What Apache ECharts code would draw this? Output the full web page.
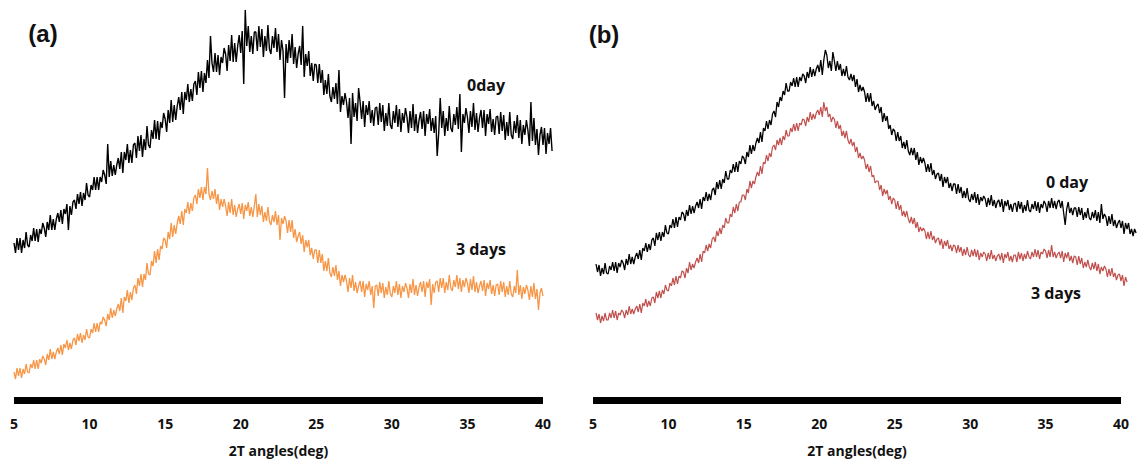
<!DOCTYPE html>
<html><head><meta charset="utf-8">
<script src="https://cdn.jsdelivr.net/npm/echarts@6/dist/echarts.min.js"></script>
<style>html,body{margin:0;padding:0;background:#fff}#c{width:1137px;height:463px}</style>
</head><body><div id="c"></div>
<script>
// X-ray diffraction patterns, intensity in arbitrary units, sampled every 0.1 deg
const xTicks = [5, 10, 15, 20, 25, 30, 35, 40];
const dataMaxAngle = 41;   // the recorded patterns run a little past the last tick
const angleStep = 0.1;
const startA = 5.0;   // panel (a) first angle
const startB = 5.2;   // panel (b) first angle

// (a) 0 day
const day0A = [
157,147,162,150,162,147,160,152,168,155, 153,165,159,172,159,171,158,171,166,177,
172,163,178,170,185,170,181,170,181,187, 178,190,176,191,186,196,170,194,185,198,
200,191,206,196,208,194,207,200,217,205, 203,215,210,223,210,223,210,223,218,230,
225,216,256,223,239,224,235,225,235,242, 231,248,227,248,240,256,237,250,237,255,
257,242,264,249,265,243,261,250,274,255, 252,270,261,280,261,279,260,278,272,287,
281,268,290,277,300,278,295,280,294,303, 290,308,286,308,300,316,298,311,299,316,
319,305,328,312,329,308,327,317,340,322, 364,337,328,347,328,345,325,343,337,352,
346,329,355,339,365,338,357,338,354,365, 347,369,316,390,354,374,348,364,346,368,
368,349,374,353,371,343,364,349,375,351, 346,364,352,372,348,366,340,360,349,302,
356,337,360,342,366,336,353,332,346,354, 335,374,323,346,334,349,324,337,319,336,
335,317,336,317,330,305,320,306,326,304, 298,313,301,317,296,330,288,304,295,307,
298,282,302,256,307,283,297,279,312,298, 281,299,273,295,285,299,277,290,274,292,
293,275,297,278,295,269,287,274,297,275, 271,289,277,295,273,291,268,287,277,292,
283,267,289,272,296,269,286,267,280,288, 271,289,264,286,276,291,269,282,267,284,
244,267,302,272,289,264,282,269,294,272, 268,286,275,293,271,306,248,286,277,292,
283,267,289,273,297,270,287,268,282,290, 272,290,264,286,276,291,268,281,265,283,
284,266,288,269,285,260,278,264,288,265, 261,279,267,285,262,280,256,275,265,280,
270,254,298,259,282,255,271,245,265,273, 255,272,246,267,256,272,249
];
// (a) 3 days
const day3A = [
28,21,32,24,32,22,31,26,36,28, 27,36,32,40,31,40,31,41,37,44,
41,35,46,40,51,41,48,41,48,52, 46,55,45,56,52,60,50,57,51,60,
62,55,66,59,67,57,65,60,71,63, 62,71,67,77,68,77,68,78,76,83,
80,74,86,80,92,82,90,84,91,96, 89,102,87,103,99,110,97,108,100,112,
115,106,122,114,126,113,126,120,137,126, 125,139,134,149,137,151,140,154,151,162,
160,152,168,161,177,163,175,166,177,184, 176,189,175,191,187,198,186,197,189,202,
205,196,211,202,213,200,213,206,232,206, 200,209,201,211,196,206,190,201,193,201,
194,184,198,187,201,185,195,183,191,196, 186,197,181,195,189,198,184,193,183,194,
206,183,196,185,194,178,188,179,193,179, 175,185,178,189,175,185,160,182,176,184,
179,167,180,168,180,162,171,158,164,168, 156,165,148,160,153,160,145,152,141,150,
150,137,150,137,146,129,139,129,142,127, 123,133,124,135,120,129,114,125,118,125,
119,108,122,112,125,109,118,107,114,119, 108,119,103,116,110,119,105,114,92,114,
115,104,118,107,117,102,113,105,119,106, 103,114,107,119,105,116,102,114,108,117,
112,102,116,107,121,105,115,104,113,118, 108,119,103,118,112,121,95,116,107,118,
119,108,122,112,122,107,118,110,125,112, 109,120,113,125,111,122,108,120,113,122,
117,107,121,110,124,108,118,107,114,119, 109,120,104,117,111,120,106,115,104,115,
116,105,119,108,118,103,114,105,119,106, 103,114,107,130,105,115,101,113,106,115,
110,100,114,103,117,101,111,90,107,112, 104
];
// (b) 0 day
const day0B = [
136,128,135,124,132,126,137,127,
126,134,130,138,129,138,127,137,133,140, 137,130,141,135,146,136,143,136,143,147,
141,150,140,152,149,157,148,156,150,160, 162,154,167,160,168,159,168,163,175,167,
166,175,172,181,172,183,173,183,180,188, 186,179,190,184,195,186,194,187,194,198,
192,201,191,203,199,208,199,206,200,210, 212,205,218,211,220,211,221,217,229,221,
221,230,227,236,228,238,228,239,236,244, 242,236,248,243,255,246,255,249,257,262,
257,268,258,272,269,279,271,280,275,286, 289,283,298,293,303,299,309,305,317,309,
309,318,314,322,313,323,313,323,319,326, 324,317,328,322,333,323,331,324,331,335,
328,340,325,340,350,345,332,339,329,348, 339,329,339,330,336,324,331,324,334,323,
320,326,319,325,313,321,308,315,309,313, 308,298,307,298,307,294,299,290,294,296,
287,293,278,287,279,284,271,275,265,271, 269,259,268,259,264,252,258,251,260,249,
245,252,245,252,240,248,235,243,237,242, 237,228,236,228,237,225,230,221,226,227,
219,226,213,223,217,223,212,217,209,216, 216,206,216,207,213,202,209,202,212,201,
198,206,200,208,197,206,195,203,199,204, 201,193,202,195,205,194,200,192,198,200,
193,201,188,199,194,200,190,196,188,196, 197,188,199,191,198,187,195,189,200,190,
188,196,191,199,189,198,187,196,192,199, 196,188,199,192,202,192,199,191,198,200,
192,199,187,175,191,198,187,192,185,192, 192,183,193,185,192,180,188,182,192,182,
180,188,182,190,179,188,177,196,181,186, 183,174,184,176,186,174,180,172,177,180,
172,179,166,177,171,177,166,171,164,171, 167
];
// (b) 3 days
const day3B = [
87,80,86,77,84,79,87,80,
80,87,82,90,82,89,80,87,85,90, 88,82,90,85,94,86,91,86,91,94,
88,96,87,97,94,101,93,99,94,102, 103,97,108,102,109,102,110,106,115,110,
109,117,114,122,115,124,116,124,122,129, 128,122,132,127,138,130,136,132,138,142,
137,146,138,149,147,155,149,156,152,161, 163,158,169,164,172,166,175,172,182,177,
177,186,183,193,187,196,189,198,198,205, 205,200,211,207,219,212,219,216,223,228,
224,234,226,238,236,245,239,247,243,253, 255,250,260,255,262,255,264,260,270,264,
264,272,268,276,269,277,269,277,275,281, 280,274,283,278,288,280,286,281,287,290,
285,293,283,298,289,293,283,286,278,283, 281,272,279,271,275,264,269,262,269,260,
256,261,254,258,248,253,242,247,241,244, 240,231,236,228,234,223,225,217,219,219,
210,215,204,211,206,210,200,204,196,202, 200,191,199,190,195,184,189,183,189,181,
177,183,176,182,172,178,168,173,169,172, 169,161,168,161,169,160,164,157,161,162,
155,161,151,159,154,160,151,155,149,155, 154,147,155,148,153,144,151,145,153,145,
143,150,144,151,143,150,140,147,143,148, 146,139,147,141,150,141,145,139,144,146,
140,147,137,146,142,148,139,144,138,145, 145,138,148,141,147,139,146,141,149,143,
141,148,143,151,143,150,141,148,146,151, 149,142,150,143,155,143,148,142,146,148,
142,149,138,147,142,148,139,144,137,144, 143,135,144,136,142,132,138,133,140,133,
130,137,131,138,129,136,126,133,129,134, 131,123,131,124,132,123,127,120,125,126,
119,125,114,123,118
];

function pairs(start, arr) {
  return arr.map((v, i) => [Math.round((start + i * angleStep) * 10) / 10, v]);
}

const FONT = "'Open Sans', 'Noto Sans', sans-serif";
const chart = echarts.init(document.getElementById('c'), null, { renderer: 'svg' });

const axisMin = xTicks[0], axisMax = xTicks[xTicks.length - 1];
const panels = [
  { left: 14, width: 529 },
  { left: 593, width: 528 }
];
const grids = [], xAxes = [], yAxes = [];
panels.forEach((p, k) => {
  // visible axis grid
  grids.push({ left: p.left, top: 0, width: p.width, height: 400 });
  // data grid with the same degrees-per-pixel, extended to dataMaxAngle
  grids.push({ left: p.left, top: 0, width: p.width * (dataMaxAngle - axisMin) / (axisMax - axisMin), height: 400 });
  xAxes.push({
    type: 'value', gridIndex: 2 * k, min: axisMin, max: axisMax, interval: 5,
    axisLine: { show: true, lineStyle: { color: '#000', width: 7, cap: 'butt' } },
    axisTick: { show: false }, splitLine: { show: false },
    axisLabel: { margin: 16, color: '#111', fontSize: 14, fontWeight: 'bold', fontFamily: FONT },
    name: '2T angles(deg)', nameLocation: 'middle', nameGap: 43,
    nameTextStyle: { color: '#111', fontSize: 14, fontWeight: 'bold', fontFamily: FONT }
  });
  xAxes.push({ type: 'value', gridIndex: 2 * k + 1, min: axisMin, max: dataMaxAngle, show: false, splitLine: { show: false } });
  yAxes.push({ type: 'value', gridIndex: 2 * k, min: 0, max: 400, show: false, splitLine: { show: false } });
  yAxes.push({ type: 'value', gridIndex: 2 * k + 1, min: 0, max: 400, show: false, splitLine: { show: false } });
});

function lineSeries(idx, data, color, width) {
  return {
    type: 'line', xAxisIndex: idx, yAxisIndex: idx, data, showSymbol: false, symbol: 'none',
    clip: false, lineStyle: { color, width }, itemStyle: { color }, silent: true
  };
}
function label(text, x, y, size, family) {
  return {
    type: 'text', x, y,
    style: { text, fill: '#111', font: 'bold ' + size + 'px ' + family, align: 'center', verticalAlign: 'middle',
             textAlign: 'center', textVerticalAlign: 'middle' }
  };
}

chart.setOption({
  animation: false,
  backgroundColor: '#fff',
  grid: grids,
  xAxis: xAxes,
  yAxis: yAxes,
  series: [
    lineSeries(1, pairs(startA, day0A), '#000000', 1.4),
    lineSeries(1, pairs(startA, day3A), '#F79646', 1.3),
    lineSeries(3, pairs(startB, day0B), '#000000', 1.3),
    lineSeries(3, pairs(startB, day3B), '#C0504D', 1.2)
  ],
  graphic: [
    label('(a)', 43, 33, 24, "'Liberation Sans', Arial, sans-serif"),
    label('(b)', 604, 34, 24, "'Liberation Sans', Arial, sans-serif"),
    label('0day', 486, 85, 16, FONT),
    label('3 days', 481, 249, 16, FONT),
    label('0 day', 1067, 182, 16, FONT),
    label('3 days', 1056, 293, 16, FONT)
  ]
});
</script>
</body></html>
